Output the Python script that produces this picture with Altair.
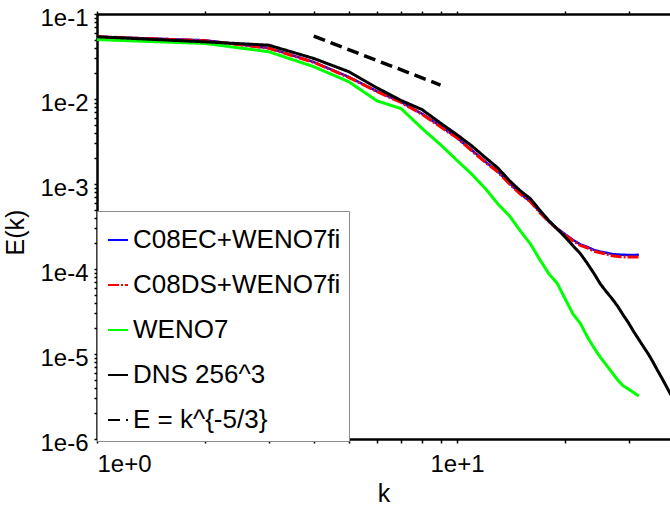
import altair as alt
import pandas as pd

# ---------------- data ----------------
k_les = list(range(1, 33))
E_c08ec = [0.054, 0.049, 0.0398, 0.0272, 0.0182, 0.0123, 0.0092, 0.0067, 0.0048, 0.0035,
           0.0025, 0.00182, 0.0014, 0.00102, 0.00077, 0.00062, 0.00047, 0.00036, 0.0003, 0.000255,
           0.00022, 0.000195, 0.000182, 0.000168, 0.00016, 0.000155, 0.00015, 0.000148, 0.000147, 0.000146,
           0.000146, 0.000147]
E_c08ds = [0.054, 0.0485, 0.0395, 0.027, 0.018, 0.0122, 0.0091, 0.0066, 0.0047, 0.0035,
           0.00245, 0.0018, 0.00138, 0.0010, 0.00076, 0.00062, 0.00046, 0.00036, 0.000295, 0.00025,
           0.000215, 0.00019, 0.000178, 0.000162, 0.000155, 0.00015, 0.000143, 0.00014, 0.000139, 0.000138,
           0.000138, 0.000138]
E_weno7 = [0.050, 0.045, 0.036, 0.024, 0.016, 0.0095, 0.0077, 0.0045, 0.0029, 0.0019,
           0.0013, 0.00088, 0.00058, 0.00042, 0.00028, 0.000197, 0.000128, 0.000088, 0.0000675, 0.000044,
           0.0000296, 0.000023, 0.000016, 0.0000119, 0.0000092, 0.0000074, 0.000006, 0.0000049, 0.0000042, 0.00000385,
           0.0000035, 0.0000032]
k_dns = list(range(1, 41))
E_dns = [0.054, 0.047, 0.043, 0.030, 0.021, 0.0135, 0.0096, 0.0075, 0.0052, 0.0038,
         0.0028, 0.00204, 0.00154, 0.00109, 0.00083, 0.00067, 0.00049, 0.00037, 0.000295, 0.000236,
         0.000188, 0.000152, 0.000117, 0.000089, 0.000067, 0.000054, 0.0000445, 0.000036, 0.0000285, 0.000023,
         0.0000182, 0.0000148, 0.0000121, 0.0000100, 0.0000081, 0.0000065, 0.0000053, 0.0000043, 0.0000035, 0.0000029]
k_ref = [4, 9]
E_ref = [0.055, 0.0146]

series_names = ["C08EC+WENO7fi", "C08DS+WENO7fi", "WENO7", "DNS 256^3", "E = k^{-5/3}"]
series_colors = ["#0000ff", "#ff0000", "#00ff00", "#000000", "#000000"]
series_dashes = [[1, 0], [11, 2, 2, 2], [1, 0], [1, 0], [12, 6]]
series_widths = [2.5, 3, 3, 3, 3.5]

rows = []
for name, ks, es in zip(series_names,
                        [k_les, k_les, k_les, k_dns, k_ref],
                        [E_c08ec, E_c08ds, E_weno7, E_dns, E_ref]):
    for kk, ee in zip(ks, es):
        rows.append({"series": name, "k": kk, "E": ee})
df = pd.DataFrame(rows)

FONT = "Liberation Sans"
XMAX = 39.06
x_ticks = [1, 2, 3, 4, 5, 6, 7, 8, 9, 10, 20, 30]
y_ticks = [m * 10.0 ** e for e in range(-6, -1) for m in range(1, 10)] + [0.1]
y_decades = [1e-6, 1e-5, 1e-4, 1e-3, 1e-2, 1e-1]

x_scale = alt.Scale(type="log", domain=[1, XMAX], nice=False)
y_scale = alt.Scale(type="log", domain=[1e-6, 1e-1], nice=False)

legend = alt.Legend(
    title=" ", titleFontSize=3, titlePadding=5,
    orient="none", legendX=0, legendY=197,
    fillColor="white", strokeColor="#8c8c8c", padding=8,
    symbolType="stroke", symbolSize=400, symbolStrokeWidth=2,
    labelFont=FONT, labelFontSize=26, labelColor="black", labelLimit=400,
    labelOffset=2, rowPadding=19,
)
color_enc = alt.Color("series:N", scale=alt.Scale(domain=series_names, range=series_colors), legend=legend)
dash_enc = alt.StrokeDash("series:N", scale=alt.Scale(domain=series_names, range=series_dashes), legend=legend)

axis_common = dict(labelFont=FONT, labelFontSize=24, labelColor="black",
                   titleFont=FONT, titleFontSize=25, titleColor="black", titleFontWeight="normal",
                   grid=False, tickColor="black", domainColor="black", labelOverlap=False)

x_bottom = alt.Axis(values=x_ticks, tickSize=4, tickWidth=1.5, domainWidth=2.5, labelPadding=9,
                    labelExpr="datum.value == 1 ? '1e+0' : (datum.value == 10 ? '1e+1' : '')",
                    title="k", titleY=54, titleBaseline="middle", **axis_common)
y_left = alt.Axis(values=y_ticks, tickSize=3, tickWidth=1.5, domainWidth=2.5, labelPadding=6, labelOffset=4,
                  labelExpr="abs(log(datum.value)/LN10 - round(log(datum.value)/LN10)) < 0.001 ? '1e-' + round(-log(datum.value)/LN10) : ''",
                  title="E(k)", titleX=-82, titleY=218, titleBaseline="middle", **axis_common)
x_top = alt.Axis(orient="top", values=x_ticks, tickSize=3, tickWidth=1.5, domainWidth=2.5, labels=False,
                 title=None, grid=False, tickColor="black", domainColor="black")
y_right = alt.Axis(orient="right", values=y_decades, tickSize=3, tickWidth=2, domainWidth=1,
                   domainColor="#9a9a9a", domainDash=[3, 3], labels=False, title=None, grid=False,
                   tickColor="black")

layers = []
for i, name in enumerate(series_names):
    if i == 0:
        xa, ya = x_bottom, y_left
    elif i == len(series_names) - 1:
        xa, ya = x_top, y_right
    else:
        xa, ya = None, None
    layer = alt.Chart(df).transform_filter(alt.datum.series == name).mark_line(
        strokeWidth=series_widths[i], clip=True, strokeCap="butt", strokeJoin="round"
    ).encode(
        x=alt.X("k:Q", scale=x_scale, axis=xa),
        y=alt.Y("E:Q", scale=y_scale, axis=ya),
        color=color_enc,
        strokeDash=dash_enc,
        order=alt.Order("k:Q"),
    )
    layers.append(layer)

chart = alt.layer(*layers).resolve_axis(x="independent", y="independent").properties(
    width=573, height=425,
    autosize=alt.AutoSizeParams(type="none"),
    padding={"left": 97, "top": 14, "right": 0, "bottom": 69},
    background="white",
).configure_view(stroke=None)

chart.save("out.html", embed_options={"renderer": "svg", "actions": False})
